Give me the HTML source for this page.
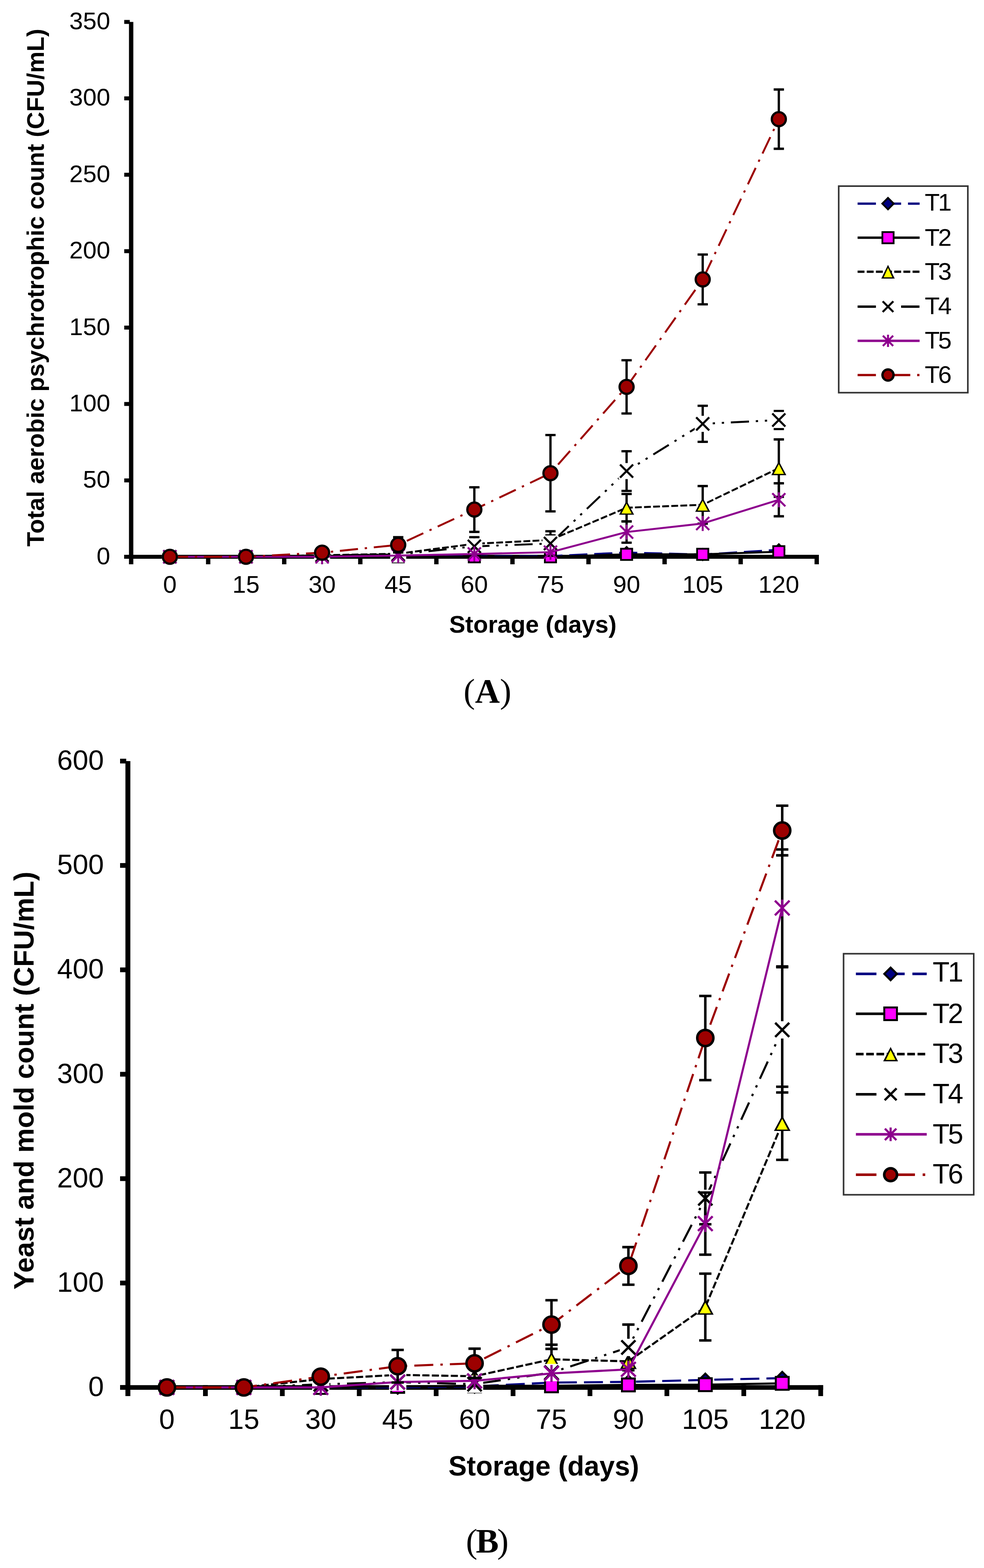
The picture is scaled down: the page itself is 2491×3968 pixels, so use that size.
<!DOCTYPE html><html><head><meta charset="utf-8"><title>Figure</title>
<style>html,body{margin:0;padding:0;background:#fff;overflow:hidden;width:2491px;height:3968px}svg{display:block}</style></head><body>
<svg width="2491" height="3968" viewBox="0 0 2491 3968">
<rect width="2491" height="3968" fill="#fff"/>
<g fill="#000">
<rect x="326.5" y="55.5" width="11" height="1372.5"/>
<rect x="314.5" y="1404" width="14" height="10"/>
<rect x="314.5" y="1210.7" width="14" height="10"/>
<rect x="314.5" y="1017.3" width="14" height="10"/>
<rect x="314.5" y="824" width="14" height="10"/>
<rect x="314.5" y="630.6" width="14" height="10"/>
<rect x="314.5" y="437.2" width="14" height="10"/>
<rect x="314.5" y="243.9" width="14" height="10"/>
<rect x="314.5" y="50.5" width="14" height="10"/>
<rect x="314.5" y="1404" width="1757.5" height="10"/>
<rect x="521.5" y="1404" width="11" height="24"/>
<rect x="714" y="1404" width="11" height="24"/>
<rect x="906.6" y="1404" width="11" height="24"/>
<rect x="1099.2" y="1404" width="11" height="24"/>
<rect x="1291.8" y="1404" width="11" height="24"/>
<rect x="1484.3" y="1404" width="11" height="24"/>
<rect x="1676.9" y="1404" width="11" height="24"/>
<rect x="1869.5" y="1404" width="11" height="24"/>
<rect x="2062" y="1404" width="11" height="24"/>
</g>
<g font-family="Liberation Sans, Arial, sans-serif" font-size="62" fill="#000">
<text x="279" y="1427.5" text-anchor="end">0</text>
<text x="279" y="1234.2" text-anchor="end">50</text>
<text x="279" y="1040.8" text-anchor="end">100</text>
<text x="279" y="847.5" text-anchor="end">150</text>
<text x="279" y="654.1" text-anchor="end">200</text>
<text x="279" y="460.8" text-anchor="end">250</text>
<text x="279" y="267.4" text-anchor="end">300</text>
<text x="279" y="74" text-anchor="end">350</text>
<text x="430" y="1500" text-anchor="middle">0</text>
<text x="622.7" y="1500" text-anchor="middle">15</text>
<text x="815.4" y="1500" text-anchor="middle">30</text>
<text x="1008.1" y="1500" text-anchor="middle">45</text>
<text x="1200.8" y="1500" text-anchor="middle">60</text>
<text x="1393.5" y="1500" text-anchor="middle">75</text>
<text x="1586.2" y="1500" text-anchor="middle">90</text>
<text x="1778.9" y="1500" text-anchor="middle">105</text>
<text x="1971.6" y="1500" text-anchor="middle">120</text>
</g>
<text x="1349" y="1601" text-anchor="middle" font-family="Liberation Sans, Arial, sans-serif" font-size="61" font-weight="bold">Storage (days)</text>
<text transform="translate(111 728) rotate(-90)" text-anchor="middle" font-family="Liberation Sans, Arial, sans-serif" font-size="61" font-weight="bold">Total aerobic psychrotrophic count (CFU/mL)</text>
<polyline points="430,1409 622.7,1409 815.4,1409 1008.1,1409 1200.8,1407.8 1393.5,1407.1 1586.2,1398.2 1778.9,1403.2 1971.6,1391.2" fill="none" stroke="#000080" stroke-width="4.9" stroke-dasharray="46 17.2" stroke-linejoin="round"/>
<path d="M430 1395L444 1409L430 1423L416 1409Z" fill="#000080" stroke="#000" stroke-width="4.5" stroke-linejoin="miter"/>
<path d="M622.7 1395L636.7 1409L622.7 1423L608.7 1409Z" fill="#000080" stroke="#000" stroke-width="4.5" stroke-linejoin="miter"/>
<path d="M815.4 1395L829.4 1409L815.4 1423L801.4 1409Z" fill="#000080" stroke="#000" stroke-width="4.5" stroke-linejoin="miter"/>
<path d="M1008.1 1395L1022.1 1409L1008.1 1423L994.1 1409Z" fill="#000080" stroke="#000" stroke-width="4.5" stroke-linejoin="miter"/>
<path d="M1200.8 1393.8L1214.8 1407.8L1200.8 1421.8L1186.8 1407.8Z" fill="#000080" stroke="#000" stroke-width="4.5" stroke-linejoin="miter"/>
<path d="M1393.5 1393.1L1407.5 1407.1L1393.5 1421.1L1379.5 1407.1Z" fill="#000080" stroke="#000" stroke-width="4.5" stroke-linejoin="miter"/>
<path d="M1586.2 1384.2L1600.2 1398.2L1586.2 1412.2L1572.2 1398.2Z" fill="#000080" stroke="#000" stroke-width="4.5" stroke-linejoin="miter"/>
<path d="M1778.9 1389.2L1792.9 1403.2L1778.9 1417.2L1764.9 1403.2Z" fill="#000080" stroke="#000" stroke-width="4.5" stroke-linejoin="miter"/>
<path d="M1971.6 1377.2L1985.6 1391.2L1971.6 1405.2L1957.6 1391.2Z" fill="#000080" stroke="#000" stroke-width="4.5" stroke-linejoin="miter"/>
<polyline points="430,1409 622.7,1409 815.4,1409 1008.1,1409 1200.8,1409 1393.5,1409 1586.2,1402.8 1778.9,1402.8 1971.6,1396.2" fill="none" stroke="#000" stroke-width="4.9" stroke-linejoin="round"/>
<rect x="415.8" y="1394.8" width="28.4" height="28.4" fill="#ff00ff" stroke="#000" stroke-width="4.5"/>
<rect x="608.5" y="1394.8" width="28.4" height="28.4" fill="#ff00ff" stroke="#000" stroke-width="4.5"/>
<rect x="801.2" y="1394.8" width="28.4" height="28.4" fill="#ff00ff" stroke="#000" stroke-width="4.5"/>
<rect x="993.9" y="1394.8" width="28.4" height="28.4" fill="#ff00ff" stroke="#000" stroke-width="4.5"/>
<rect x="1186.6" y="1394.8" width="28.4" height="28.4" fill="#ff00ff" stroke="#000" stroke-width="4.5"/>
<rect x="1379.3" y="1394.8" width="28.4" height="28.4" fill="#ff00ff" stroke="#000" stroke-width="4.5"/>
<rect x="1572" y="1388.6" width="28.4" height="28.4" fill="#ff00ff" stroke="#000" stroke-width="4.5"/>
<rect x="1764.7" y="1388.6" width="28.4" height="28.4" fill="#ff00ff" stroke="#000" stroke-width="4.5"/>
<rect x="1957.4" y="1382" width="28.4" height="28.4" fill="#ff00ff" stroke="#000" stroke-width="4.5"/>
<path d="M1200.8 1368.4L1200.8 1383.9M1187.8 1368.4L1213.8 1368.4M1187.8 1383.9L1213.8 1383.9M1393.5 1354.9L1393.5 1378.1M1380.5 1354.9L1406.5 1354.9M1380.5 1378.1L1406.5 1378.1M1586.2 1250.1L1586.2 1319.7M1573.2 1250.1L1599.2 1250.1M1573.2 1319.7L1599.2 1319.7M1778.9 1230L1778.9 1325.1M1765.9 1230L1791.9 1230M1765.9 1325.1L1791.9 1325.1M1971.6 1112L1971.6 1257.4M1958.6 1112L1984.6 1112M1958.6 1257.4L1984.6 1257.4" stroke="#000" stroke-width="5.8" fill="none"/>
<polyline points="430,1409 622.7,1409 815.4,1405.1 1008.1,1401.3 1200.8,1376.1 1393.5,1366.5 1586.2,1284.9 1778.9,1277.5 1971.6,1184.7" fill="none" stroke="#000" stroke-width="4.9" stroke-dasharray="17.2 5.8" stroke-linejoin="round"/>
<path d="M430 1391.3L449 1426.7L411 1426.7Z" fill="#000"/><path d="M430 1398.7L442.9 1423.5L417.1 1423.5Z" fill="#ffff00"/>
<path d="M622.7 1391.3L641.7 1426.7L603.7 1426.7Z" fill="#000"/><path d="M622.7 1398.7L635.6 1423.5L609.8 1423.5Z" fill="#ffff00"/>
<path d="M815.4 1387.4L834.4 1422.8L796.4 1422.8Z" fill="#000"/><path d="M815.4 1394.8L828.3 1419.6L802.5 1419.6Z" fill="#ffff00"/>
<path d="M1008.1 1383.6L1027.1 1419L989.1 1419Z" fill="#000"/><path d="M1008.1 1390.9L1021 1415.8L995.2 1415.8Z" fill="#ffff00"/>
<path d="M1200.8 1358.4L1219.8 1393.8L1181.8 1393.8Z" fill="#000"/><path d="M1200.8 1365.8L1213.7 1390.6L1187.9 1390.6Z" fill="#ffff00"/>
<path d="M1393.5 1348.8L1412.5 1384.2L1374.5 1384.2Z" fill="#000"/><path d="M1393.5 1356.1L1406.4 1381L1380.6 1381Z" fill="#ffff00"/>
<path d="M1586.2 1267.2L1605.2 1302.6L1567.2 1302.6Z" fill="#000"/><path d="M1586.2 1274.5L1599.1 1299.4L1573.3 1299.4Z" fill="#ffff00"/>
<path d="M1778.9 1259.8L1797.9 1295.2L1759.9 1295.2Z" fill="#000"/><path d="M1778.9 1267.2L1791.8 1292L1766 1292Z" fill="#ffff00"/>
<path d="M1971.6 1167L1990.6 1202.4L1952.6 1202.4Z" fill="#000"/><path d="M1971.6 1174.4L1984.5 1199.2L1958.7 1199.2Z" fill="#ffff00"/>
<path d="M1200.8 1359.5L1200.8 1405.9M1187.8 1359.5L1213.8 1359.5M1187.8 1405.9L1213.8 1405.9M1393.5 1344.4L1393.5 1406.3M1380.5 1344.4L1406.5 1344.4M1380.5 1406.3L1406.5 1406.3M1586.2 1141.8L1586.2 1242.3M1573.2 1141.8L1599.2 1141.8M1573.2 1242.3L1599.2 1242.3M1778.9 1026.9L1778.9 1118.2M1765.9 1026.9L1791.9 1026.9M1765.9 1118.2L1791.9 1118.2M1971.6 1040.1L1971.6 1085.7M1958.6 1040.1L1984.6 1040.1M1958.6 1085.7L1984.6 1085.7" stroke="#000" stroke-width="5.8" fill="none"/>
<polyline points="430,1409 622.7,1409 815.4,1405.1 1008.1,1403.2 1200.8,1382.7 1393.5,1375.4 1586.2,1192.1 1778.9,1072.6 1971.6,1062.9" fill="none" stroke="#000" stroke-width="4.9" stroke-dasharray="46 17.2 5.8 17.2 5.8 17.2" stroke-linejoin="round"/>
<rect x="409.7" y="1388.7" width="40.6" height="40.6" fill="#fff"/><path d="M413.5 1392.5L446.5 1425.5M446.5 1392.5L413.5 1425.5" stroke="#000" stroke-width="5.2" fill="none"/>
<rect x="602.4" y="1388.7" width="40.6" height="40.6" fill="#fff"/><path d="M606.2 1392.5L639.2 1425.5M639.2 1392.5L606.2 1425.5" stroke="#000" stroke-width="5.2" fill="none"/>
<rect x="795.1" y="1384.8" width="40.6" height="40.6" fill="#fff"/><path d="M798.9 1388.6L831.9 1421.6M831.9 1388.6L798.9 1421.6" stroke="#000" stroke-width="5.2" fill="none"/>
<rect x="987.8" y="1382.9" width="40.6" height="40.6" fill="#fff"/><path d="M991.6 1386.7L1024.6 1419.7M1024.6 1386.7L991.6 1419.7" stroke="#000" stroke-width="5.2" fill="none"/>
<rect x="1180.5" y="1362.4" width="40.6" height="40.6" fill="#fff"/><path d="M1184.3 1366.2L1217.3 1399.2M1217.3 1366.2L1184.3 1399.2" stroke="#000" stroke-width="5.2" fill="none"/>
<rect x="1373.2" y="1355.1" width="40.6" height="40.6" fill="#fff"/><path d="M1377 1358.9L1410 1391.9M1410 1358.9L1377 1391.9" stroke="#000" stroke-width="5.2" fill="none"/>
<rect x="1565.9" y="1171.8" width="40.6" height="40.6" fill="#fff"/><path d="M1569.7 1175.6L1602.7 1208.6M1602.7 1175.6L1569.7 1208.6" stroke="#000" stroke-width="5.2" fill="none"/>
<rect x="1758.6" y="1052.3" width="40.6" height="40.6" fill="#fff"/><path d="M1762.4 1056.1L1795.4 1089.1M1795.4 1056.1L1762.4 1089.1" stroke="#000" stroke-width="5.2" fill="none"/>
<rect x="1951.3" y="1042.6" width="40.6" height="40.6" fill="#fff"/><path d="M1955.1 1046.4L1988.1 1079.4M1988.1 1046.4L1955.1 1079.4" stroke="#000" stroke-width="5.2" fill="none"/>
<path d="M1586.2 1319.3L1586.2 1373.4M1573.2 1319.3L1599.2 1319.3M1573.2 1373.4L1599.2 1373.4M1971.6 1223L1971.6 1306.5M1958.6 1223L1984.6 1223M1958.6 1306.5L1984.6 1306.5" stroke="#000" stroke-width="5.8" fill="none"/>
<polyline points="430,1409 622.7,1409 815.4,1409 1008.1,1405.9 1200.8,1402 1393.5,1397.4 1586.2,1346.4 1778.9,1324.7 1971.6,1264.8" fill="none" stroke="#8e008e" stroke-width="4.9" stroke-linejoin="round"/>
<path d="M413.5 1392.5L446.5 1425.5M446.5 1392.5L413.5 1425.5M430 1390L430 1428" stroke="#8e008e" stroke-width="5" fill="none"/>
<path d="M606.2 1392.5L639.2 1425.5M639.2 1392.5L606.2 1425.5M622.7 1390L622.7 1428" stroke="#8e008e" stroke-width="5" fill="none"/>
<path d="M798.9 1392.5L831.9 1425.5M831.9 1392.5L798.9 1425.5M815.4 1390L815.4 1428" stroke="#8e008e" stroke-width="5" fill="none"/>
<path d="M991.6 1389.4L1024.6 1422.4M1024.6 1389.4L991.6 1422.4M1008.1 1386.9L1008.1 1424.9" stroke="#8e008e" stroke-width="5" fill="none"/>
<path d="M1184.3 1385.5L1217.3 1418.5M1217.3 1385.5L1184.3 1418.5M1200.8 1383L1200.8 1421" stroke="#8e008e" stroke-width="5" fill="none"/>
<path d="M1377 1380.9L1410 1413.9M1410 1380.9L1377 1413.9M1393.5 1378.4L1393.5 1416.4" stroke="#8e008e" stroke-width="5" fill="none"/>
<path d="M1569.7 1329.9L1602.7 1362.9M1602.7 1329.9L1569.7 1362.9M1586.2 1327.4L1586.2 1365.4" stroke="#8e008e" stroke-width="5" fill="none"/>
<path d="M1762.4 1308.2L1795.4 1341.2M1795.4 1308.2L1762.4 1341.2M1778.9 1305.7L1778.9 1343.7" stroke="#8e008e" stroke-width="5" fill="none"/>
<path d="M1955.1 1248.3L1988.1 1281.3M1988.1 1248.3L1955.1 1281.3M1971.6 1245.8L1971.6 1283.8" stroke="#8e008e" stroke-width="5" fill="none"/>
<path d="M1008.1 1359.5L1008.1 1398.2M995.1 1359.5L1021.1 1359.5M995.1 1398.2L1021.1 1398.2M1200.8 1233.1L1200.8 1346M1187.8 1233.1L1213.8 1233.1M1187.8 1346L1213.8 1346M1393.5 1100.8L1393.5 1294.2M1380.5 1100.8L1406.5 1100.8M1380.5 1294.2L1406.5 1294.2M1586.2 911.7L1586.2 1046.3M1573.2 911.7L1599.2 911.7M1573.2 1046.3L1599.2 1046.3M1778.9 644.1L1778.9 770.2M1765.9 644.1L1791.9 644.1M1765.9 770.2L1791.9 770.2M1971.6 226.5L1971.6 376.5M1958.6 226.5L1984.6 226.5M1958.6 376.5L1984.6 376.5" stroke="#000" stroke-width="5.8" fill="none"/>
<polyline points="430,1409 622.7,1409 815.4,1398.6 1008.1,1378.8 1200.8,1289.5 1393.5,1197.5 1586.2,979 1778.9,707.1 1971.6,301.5" fill="none" stroke="#9c0000" stroke-width="4.9" stroke-dasharray="46 17.2 5.8 17.2" stroke-linejoin="round"/>
<circle cx="430" cy="1409" r="17.8" fill="#9c0000" stroke="#000" stroke-width="5.6"/>
<circle cx="622.7" cy="1409" r="17.8" fill="#9c0000" stroke="#000" stroke-width="5.6"/>
<circle cx="815.4" cy="1398.6" r="17.8" fill="#9c0000" stroke="#000" stroke-width="5.6"/>
<circle cx="1008.1" cy="1378.8" r="17.8" fill="#9c0000" stroke="#000" stroke-width="5.6"/>
<circle cx="1200.8" cy="1289.5" r="17.8" fill="#9c0000" stroke="#000" stroke-width="5.6"/>
<circle cx="1393.5" cy="1197.5" r="17.8" fill="#9c0000" stroke="#000" stroke-width="5.6"/>
<circle cx="1586.2" cy="979" r="17.8" fill="#9c0000" stroke="#000" stroke-width="5.6"/>
<circle cx="1778.9" cy="707.1" r="17.8" fill="#9c0000" stroke="#000" stroke-width="5.6"/>
<circle cx="1971.6" cy="301.5" r="17.8" fill="#9c0000" stroke="#000" stroke-width="5.6"/>
<rect x="2123.2" y="471" width="326.9" height="522.7" fill="#fff" stroke="#333" stroke-width="4"/>
<line x1="2171" y1="515.3" x2="2328" y2="515.3" stroke="#000080" stroke-width="5.8" stroke-dasharray="46.4 17.4"/>
<path d="M2248 500.8L2262.5 515.3L2248 529.8L2233.5 515.3Z" fill="#000080" stroke="#000" stroke-width="4.5" stroke-linejoin="miter"/>
<text x="2341" y="532.5" font-family="Liberation Sans, Arial, sans-serif" font-size="62" letter-spacing="-4">T1</text>
<line x1="2171" y1="601.5" x2="2328" y2="601.5" stroke="#000" stroke-width="5.8"/>
<rect x="2233.8" y="587.3" width="28.4" height="28.4" fill="#ff00ff" stroke="#000" stroke-width="4.5"/>
<text x="2341" y="621.5" font-family="Liberation Sans, Arial, sans-serif" font-size="62" letter-spacing="-4">T2</text>
<line x1="2171" y1="687.6" x2="2328" y2="687.6" stroke="#000" stroke-width="5.8" stroke-dasharray="17.4 5.8"/>
<path d="M2248 670.3L2265 704.9L2231 704.9Z" fill="#000"/><path d="M2248 677.7L2258.9 701.7L2237.1 701.7Z" fill="#ffff00"/>
<text x="2341" y="708.2" font-family="Liberation Sans, Arial, sans-serif" font-size="62" letter-spacing="-4">T3</text>
<line x1="2171" y1="776" x2="2328" y2="776" stroke="#000" stroke-width="5.8" stroke-dasharray="46.4 17.4 5.8 17.4 5.8 17.4"/>
<rect x="2230.7" y="758.7" width="34.6" height="34.6" fill="#fff"/><path d="M2234.5 762.5L2261.5 789.5M2261.5 762.5L2234.5 789.5" stroke="#000" stroke-width="5.2" fill="none"/>
<text x="2341" y="795.1" font-family="Liberation Sans, Arial, sans-serif" font-size="62" letter-spacing="-4">T4</text>
<line x1="2171" y1="862.5" x2="2328" y2="862.5" stroke="#8e008e" stroke-width="5.8"/>
<path d="M2235 849.5L2261 875.5M2261 849.5L2235 875.5M2248 847L2248 878" stroke="#8e008e" stroke-width="5" fill="none"/>
<text x="2341" y="882" font-family="Liberation Sans, Arial, sans-serif" font-size="62" letter-spacing="-4">T5</text>
<line x1="2171" y1="949.1" x2="2328" y2="949.1" stroke="#9c0000" stroke-width="5.8" stroke-dasharray="46.4 17.4 5.8 17.4"/>
<circle cx="2248" cy="949.1" r="14" fill="#9c0000" stroke="#000" stroke-width="6"/>
<text x="2341" y="969" font-family="Liberation Sans, Arial, sans-serif" font-size="62" letter-spacing="-4">T6</text>
<text x="1234" y="1778" text-anchor="middle" font-family="Liberation Serif, Times New Roman, serif" font-size="87" letter-spacing="0">(<tspan font-weight="bold">A</tspan>)</text>
<g fill="#000">
<rect x="317.5" y="1926" width="12.5" height="1607"/>
<rect x="304" y="3505" width="15.5" height="12"/>
<rect x="304" y="3240.8" width="15.5" height="12"/>
<rect x="304" y="2976.7" width="15.5" height="12"/>
<rect x="304" y="2712.5" width="15.5" height="12"/>
<rect x="304" y="2448.3" width="15.5" height="12"/>
<rect x="304" y="2184.1" width="15.5" height="12"/>
<rect x="304" y="1920" width="15.5" height="12"/>
<rect x="304" y="3505.3" width="1780" height="11.7"/>
<rect x="514" y="3505.3" width="12" height="27.7"/>
<rect x="708.7" y="3505.3" width="12" height="27.7"/>
<rect x="903.4" y="3505.3" width="12" height="27.7"/>
<rect x="1098.1" y="3505.3" width="12" height="27.7"/>
<rect x="1292.8" y="3505.3" width="12" height="27.7"/>
<rect x="1487.5" y="3505.3" width="12" height="27.7"/>
<rect x="1682.2" y="3505.3" width="12" height="27.7"/>
<rect x="1876.9" y="3505.3" width="12" height="27.7"/>
<rect x="2071.6" y="3505.3" width="12" height="27.7"/>
</g>
<g font-family="Liberation Sans, Arial, sans-serif" font-size="71" fill="#000">
<text x="263" y="3533" text-anchor="end">0</text>
<text x="263" y="3268.8" text-anchor="end">100</text>
<text x="263" y="3004.7" text-anchor="end">200</text>
<text x="263" y="2740.5" text-anchor="end">300</text>
<text x="263" y="2476.3" text-anchor="end">400</text>
<text x="263" y="2212.1" text-anchor="end">500</text>
<text x="263" y="1948" text-anchor="end">600</text>
<text x="422.6" y="3615.5" text-anchor="middle">0</text>
<text x="617.3" y="3615.5" text-anchor="middle">15</text>
<text x="812" y="3615.5" text-anchor="middle">30</text>
<text x="1006.7" y="3615.5" text-anchor="middle">45</text>
<text x="1201.4" y="3615.5" text-anchor="middle">60</text>
<text x="1396.1" y="3615.5" text-anchor="middle">75</text>
<text x="1590.8" y="3615.5" text-anchor="middle">90</text>
<text x="1785.5" y="3615.5" text-anchor="middle">105</text>
<text x="1980.2" y="3615.5" text-anchor="middle">120</text>
</g>
<text x="1376.6" y="3733.7" text-anchor="middle" font-family="Liberation Sans, Arial, sans-serif" font-size="69.5" font-weight="bold">Storage (days)</text>
<text transform="translate(84.5 2734.6) rotate(-90)" text-anchor="middle" font-family="Liberation Sans, Arial, sans-serif" font-size="70" font-weight="bold">Yeast and mold count (CFU/mL)</text>
<polyline points="422.6,3511 617.3,3511 812,3511 1006.7,3511 1201.4,3508.4 1396.1,3498.8 1590.8,3497 1785.5,3492 1980.2,3487.5" fill="none" stroke="#000080" stroke-width="5.3" stroke-dasharray="48 18" stroke-linejoin="round"/>
<path d="M422.6 3495L438.6 3511L422.6 3527L406.6 3511Z" fill="#000080" stroke="#000" stroke-width="5" stroke-linejoin="miter"/>
<path d="M617.3 3495L633.3 3511L617.3 3527L601.3 3511Z" fill="#000080" stroke="#000" stroke-width="5" stroke-linejoin="miter"/>
<path d="M812 3495L828 3511L812 3527L796 3511Z" fill="#000080" stroke="#000" stroke-width="5" stroke-linejoin="miter"/>
<path d="M1006.7 3495L1022.7 3511L1006.7 3527L990.7 3511Z" fill="#000080" stroke="#000" stroke-width="5" stroke-linejoin="miter"/>
<path d="M1201.4 3492.4L1217.4 3508.4L1201.4 3524.4L1185.4 3508.4Z" fill="#000080" stroke="#000" stroke-width="5" stroke-linejoin="miter"/>
<path d="M1396.1 3482.8L1412.1 3498.8L1396.1 3514.8L1380.1 3498.8Z" fill="#000080" stroke="#000" stroke-width="5" stroke-linejoin="miter"/>
<path d="M1590.8 3481L1606.8 3497L1590.8 3513L1574.8 3497Z" fill="#000080" stroke="#000" stroke-width="5" stroke-linejoin="miter"/>
<path d="M1785.5 3476L1801.5 3492L1785.5 3508L1769.5 3492Z" fill="#000080" stroke="#000" stroke-width="5" stroke-linejoin="miter"/>
<path d="M1980.2 3471.5L1996.2 3487.5L1980.2 3503.5L1964.2 3487.5Z" fill="#000080" stroke="#000" stroke-width="5" stroke-linejoin="miter"/>
<polyline points="422.6,3511 617.3,3511 812,3511 1006.7,3508.4 1201.4,3507 1396.1,3507 1590.8,3504.7 1785.5,3504.1 1980.2,3500.7" fill="none" stroke="#000" stroke-width="5.3" stroke-linejoin="round"/>
<rect x="406.3" y="3494.7" width="32.6" height="32.6" fill="#ff00ff" stroke="#000" stroke-width="5"/>
<rect x="601" y="3494.7" width="32.6" height="32.6" fill="#ff00ff" stroke="#000" stroke-width="5"/>
<rect x="795.7" y="3494.7" width="32.6" height="32.6" fill="#ff00ff" stroke="#000" stroke-width="5"/>
<rect x="990.4" y="3492.1" width="32.6" height="32.6" fill="#ff00ff" stroke="#000" stroke-width="5"/>
<rect x="1185.1" y="3490.7" width="32.6" height="32.6" fill="#ff00ff" stroke="#000" stroke-width="5"/>
<rect x="1379.8" y="3490.7" width="32.6" height="32.6" fill="#ff00ff" stroke="#000" stroke-width="5"/>
<rect x="1574.5" y="3488.4" width="32.6" height="32.6" fill="#ff00ff" stroke="#000" stroke-width="5"/>
<rect x="1769.2" y="3487.8" width="32.6" height="32.6" fill="#ff00ff" stroke="#000" stroke-width="5"/>
<rect x="1963.9" y="3484.4" width="32.6" height="32.6" fill="#ff00ff" stroke="#000" stroke-width="5"/>
<path d="M1396.1 3403L1396.1 3476.9M1380.6 3403L1411.6 3403M1380.6 3476.9L1411.6 3476.9M1785.5 3223.1L1785.5 3392.1M1770 3223.1L1801 3223.1M1770 3392.1L1801 3392.1M1980.2 2750.2L1980.2 2935.1M1964.7 2750.2L1995.7 2750.2M1964.7 2935.1L1995.7 2935.1" stroke="#000" stroke-width="6.3" fill="none"/>
<polyline points="422.6,3511 617.3,3511 812,3489.9 1006.7,3479.3 1201.4,3482.7 1396.1,3439.9 1590.8,3445 1785.5,3307.6 1980.2,2842.6" fill="none" stroke="#000" stroke-width="5.3" stroke-dasharray="18 6" stroke-linejoin="round"/>
<path d="M422.6 3491.5L443.6 3530.5L401.6 3530.5Z" fill="#000"/><path d="M422.6 3499.8L436.8 3526.9L408.4 3526.9Z" fill="#ffff00"/>
<path d="M617.3 3491.5L638.3 3530.5L596.3 3530.5Z" fill="#000"/><path d="M617.3 3499.8L631.5 3526.9L603.1 3526.9Z" fill="#ffff00"/>
<path d="M812 3470.4L833 3509.4L791 3509.4Z" fill="#000"/><path d="M812 3478.6L826.2 3505.8L797.8 3505.8Z" fill="#ffff00"/>
<path d="M1006.7 3459.8L1027.7 3498.8L985.7 3498.8Z" fill="#000"/><path d="M1006.7 3468.1L1020.9 3495.2L992.5 3495.2Z" fill="#ffff00"/>
<path d="M1201.4 3463.2L1222.4 3502.2L1180.4 3502.2Z" fill="#000"/><path d="M1201.4 3471.5L1215.6 3498.6L1187.2 3498.6Z" fill="#ffff00"/>
<path d="M1396.1 3420.4L1417.1 3459.4L1375.1 3459.4Z" fill="#000"/><path d="M1396.1 3428.7L1410.3 3455.8L1381.9 3455.8Z" fill="#ffff00"/>
<path d="M1590.8 3425.5L1611.8 3464.5L1569.8 3464.5Z" fill="#000"/><path d="M1590.8 3433.7L1605 3460.9L1576.6 3460.9Z" fill="#ffff00"/>
<path d="M1785.5 3288.1L1806.5 3327.1L1764.5 3327.1Z" fill="#000"/><path d="M1785.5 3296.4L1799.7 3323.5L1771.3 3323.5Z" fill="#ffff00"/>
<path d="M1980.2 2823.1L2001.2 2862.1L1959.2 2862.1Z" fill="#000"/><path d="M1980.2 2831.4L1994.4 2858.5L1966 2858.5Z" fill="#ffff00"/>
<path d="M1590.8 3352L1590.8 3467.7M1575.3 3352L1606.3 3352M1575.3 3467.7L1606.3 3467.7M1785.5 2967.1L1785.5 3098.1M1770 2967.1L1801 2967.1M1770 3098.1L1801 3098.1M1980.2 2447.7L1980.2 2764.7M1964.7 2447.7L1995.7 2447.7M1964.7 2764.7L1995.7 2764.7" stroke="#000" stroke-width="6.3" fill="none"/>
<polyline points="422.6,3511 617.3,3511 812,3503.1 1006.7,3497.8 1201.4,3502.8 1396.1,3473.5 1590.8,3409.8 1785.5,3032.6 1980.2,2606.2" fill="none" stroke="#000" stroke-width="5.3" stroke-dasharray="48 18 6 18 6 18" stroke-linejoin="round"/>
<rect x="400.7" y="3489.1" width="43.8" height="43.8" fill="#fff"/><path d="M404.8 3493.2L440.4 3528.8M440.4 3493.2L404.8 3528.8" stroke="#000" stroke-width="5.8" fill="none"/>
<rect x="595.4" y="3489.1" width="43.8" height="43.8" fill="#fff"/><path d="M599.5 3493.2L635.1 3528.8M635.1 3493.2L599.5 3528.8" stroke="#000" stroke-width="5.8" fill="none"/>
<rect x="790.1" y="3481.2" width="43.8" height="43.8" fill="#fff"/><path d="M794.2 3485.3L829.8 3520.9M829.8 3485.3L794.2 3520.9" stroke="#000" stroke-width="5.8" fill="none"/>
<rect x="984.8" y="3475.9" width="43.8" height="43.8" fill="#fff"/><path d="M988.9 3480L1024.5 3515.6M1024.5 3480L988.9 3515.6" stroke="#000" stroke-width="5.8" fill="none"/>
<rect x="1179.5" y="3480.9" width="43.8" height="43.8" fill="#fff"/><path d="M1183.6 3485L1219.2 3520.6M1219.2 3485L1183.6 3520.6" stroke="#000" stroke-width="5.8" fill="none"/>
<rect x="1374.2" y="3451.6" width="43.8" height="43.8" fill="#fff"/><path d="M1378.3 3455.7L1413.9 3491.3M1413.9 3455.7L1378.3 3491.3" stroke="#000" stroke-width="5.8" fill="none"/>
<rect x="1568.9" y="3387.9" width="43.8" height="43.8" fill="#fff"/><path d="M1573 3392L1608.6 3427.6M1608.6 3392L1573 3427.6" stroke="#000" stroke-width="5.8" fill="none"/>
<rect x="1763.6" y="3010.7" width="43.8" height="43.8" fill="#fff"/><path d="M1767.7 3014.8L1803.3 3050.4M1803.3 3014.8L1767.7 3050.4" stroke="#000" stroke-width="5.8" fill="none"/>
<rect x="1958.3" y="2584.3" width="43.8" height="43.8" fill="#fff"/><path d="M1962.4 2588.4L1998 2624M1998 2588.4L1962.4 2624" stroke="#000" stroke-width="5.8" fill="none"/>
<path d="M1785.5 3017.8L1785.5 3175.2M1770 3017.8L1801 3017.8M1770 3175.2L1801 3175.2M1980.2 2149.7L1980.2 2445.6M1964.7 2149.7L1995.7 2149.7M1964.7 2445.6L1995.7 2445.6" stroke="#000" stroke-width="6.3" fill="none"/>
<polyline points="422.6,3511 617.3,3511 812,3511 1006.7,3497.3 1201.4,3494.4 1396.1,3475.6 1590.8,3465.3 1785.5,3096.5 1980.2,2297.7" fill="none" stroke="#8e008e" stroke-width="5.3" stroke-linejoin="round"/>
<path d="M404.1 3492.5L441.1 3529.5M441.1 3492.5L404.1 3529.5M422.6 3489.7L422.6 3532.3" stroke="#8e008e" stroke-width="5.6" fill="none"/>
<path d="M598.8 3492.5L635.8 3529.5M635.8 3492.5L598.8 3529.5M617.3 3489.7L617.3 3532.3" stroke="#8e008e" stroke-width="5.6" fill="none"/>
<path d="M793.5 3492.5L830.5 3529.5M830.5 3492.5L793.5 3529.5M812 3489.7L812 3532.3" stroke="#8e008e" stroke-width="5.6" fill="none"/>
<path d="M988.2 3478.8L1025.2 3515.8M1025.2 3478.8L988.2 3515.8M1006.7 3476L1006.7 3518.6" stroke="#8e008e" stroke-width="5.6" fill="none"/>
<path d="M1182.9 3475.9L1219.9 3512.9M1219.9 3475.9L1182.9 3512.9M1201.4 3473.1L1201.4 3515.7" stroke="#8e008e" stroke-width="5.6" fill="none"/>
<path d="M1377.6 3457.1L1414.6 3494.1M1414.6 3457.1L1377.6 3494.1M1396.1 3454.3L1396.1 3496.9" stroke="#8e008e" stroke-width="5.6" fill="none"/>
<path d="M1572.3 3446.8L1609.3 3483.8M1609.3 3446.8L1572.3 3483.8M1590.8 3444L1590.8 3486.6" stroke="#8e008e" stroke-width="5.6" fill="none"/>
<path d="M1767 3078L1804 3115M1804 3078L1767 3115M1785.5 3075.2L1785.5 3117.8" stroke="#8e008e" stroke-width="5.6" fill="none"/>
<path d="M1961.7 2279.2L1998.7 2316.2M1998.7 2279.2L1961.7 2316.2M1980.2 2276.4L1980.2 2319" stroke="#8e008e" stroke-width="5.6" fill="none"/>
<path d="M1006.7 3416.2L1006.7 3498.6M991.2 3416.2L1022.2 3416.2M991.2 3498.6L1022.2 3498.6M1201.4 3413L1201.4 3487M1185.9 3413L1216.9 3413M1185.9 3487L1216.9 3487M1396.1 3290.4L1396.1 3413.5M1380.6 3290.4L1411.6 3290.4M1380.6 3413.5L1411.6 3413.5M1590.8 3156L1590.8 3251.1M1575.3 3156L1606.3 3156M1575.3 3251.1L1606.3 3251.1M1785.5 2520.4L1785.5 2733.3M1770 2520.4L1801 2520.4M1770 2733.3L1801 2733.3M1980.2 2038.8L1980.2 2164.5M1964.7 2038.8L1995.7 2038.8M1964.7 2164.5L1995.7 2164.5" stroke="#000" stroke-width="6.3" fill="none"/>
<polyline points="422.6,3511 617.3,3511 812,3483.8 1006.7,3457.4 1201.4,3450 1396.1,3352 1590.8,3203.5 1785.5,2626.8 1980.2,2101.7" fill="none" stroke="#9c0000" stroke-width="5.3" stroke-dasharray="48 18 6 18" stroke-linejoin="round"/>
<circle cx="422.6" cy="3511" r="20.5" fill="#9c0000" stroke="#000" stroke-width="6.2"/>
<circle cx="617.3" cy="3511" r="20.5" fill="#9c0000" stroke="#000" stroke-width="6.2"/>
<circle cx="812" cy="3483.8" r="20.5" fill="#9c0000" stroke="#000" stroke-width="6.2"/>
<circle cx="1006.7" cy="3457.4" r="20.5" fill="#9c0000" stroke="#000" stroke-width="6.2"/>
<circle cx="1201.4" cy="3450" r="20.5" fill="#9c0000" stroke="#000" stroke-width="6.2"/>
<circle cx="1396.1" cy="3352" r="20.5" fill="#9c0000" stroke="#000" stroke-width="6.2"/>
<circle cx="1590.8" cy="3203.5" r="20.5" fill="#9c0000" stroke="#000" stroke-width="6.2"/>
<circle cx="1785.5" cy="2626.8" r="20.5" fill="#9c0000" stroke="#000" stroke-width="6.2"/>
<circle cx="1980.2" cy="2101.7" r="20.5" fill="#9c0000" stroke="#000" stroke-width="6.2"/>
<rect x="2135.5" y="2413.5" width="329.5" height="610" fill="#fff" stroke="#333" stroke-width="4"/>
<line x1="2166.7" y1="2464.6" x2="2346" y2="2464.6" stroke="#000080" stroke-width="6.5" stroke-dasharray="52 19.5"/>
<path d="M2254.6 2448.6L2270.6 2464.6L2254.6 2480.6L2238.6 2464.6Z" fill="#000080" stroke="#000" stroke-width="5" stroke-linejoin="miter"/>
<text x="2361" y="2484" font-family="Liberation Sans, Arial, sans-serif" font-size="70" letter-spacing="-4">T1</text>
<line x1="2166.7" y1="2565.5" x2="2346" y2="2565.5" stroke="#000" stroke-width="6.5"/>
<rect x="2238.6" y="2549.5" width="32" height="32" fill="#ff00ff" stroke="#000" stroke-width="5"/>
<text x="2361" y="2588.6" font-family="Liberation Sans, Arial, sans-serif" font-size="70" letter-spacing="-4">T2</text>
<line x1="2166.7" y1="2667.6" x2="2346" y2="2667.6" stroke="#000" stroke-width="6.5" stroke-dasharray="19.5 6.5"/>
<path d="M2254.6 2649.5L2273.4 2685.7L2235.8 2685.7Z" fill="#000"/><path d="M2254.6 2657.6L2266.8 2682.2L2242.4 2682.2Z" fill="#ffff00"/>
<text x="2361" y="2690.1" font-family="Liberation Sans, Arial, sans-serif" font-size="70" letter-spacing="-4">T3</text>
<line x1="2166.7" y1="2769.3" x2="2346" y2="2769.3" stroke="#000" stroke-width="6.5" stroke-dasharray="52 19.5 6.5 19.5 6.5 19.5"/>
<rect x="2235.5" y="2750.2" width="38.2" height="38.2" fill="#fff"/><path d="M2239.6 2754.3L2269.6 2784.3M2269.6 2754.3L2239.6 2784.3" stroke="#000" stroke-width="5.8" fill="none"/>
<text x="2361" y="2791.8" font-family="Liberation Sans, Arial, sans-serif" font-size="70" letter-spacing="-4">T4</text>
<line x1="2166.7" y1="2870.6" x2="2346" y2="2870.6" stroke="#8e008e" stroke-width="6.5"/>
<path d="M2240.1 2856.1L2269.1 2885.1M2269.1 2856.1L2240.1 2885.1M2254.6 2853.3L2254.6 2887.8" stroke="#8e008e" stroke-width="5.5" fill="none"/>
<text x="2361" y="2893.5" font-family="Liberation Sans, Arial, sans-serif" font-size="70" letter-spacing="-4">T5</text>
<line x1="2166.7" y1="2972.8" x2="2346" y2="2972.8" stroke="#9c0000" stroke-width="6.5" stroke-dasharray="52 19.5 6.5 19.5"/>
<circle cx="2254.6" cy="2972.8" r="16.2" fill="#9c0000" stroke="#000" stroke-width="6.5"/>
<text x="2361" y="2995.2" font-family="Liberation Sans, Arial, sans-serif" font-size="70" letter-spacing="-4">T6</text>
<text x="1231.5" y="3928.5" text-anchor="middle" font-family="Liberation Serif, Times New Roman, serif" font-size="87" letter-spacing="-4">(<tspan font-weight="bold">B</tspan>)</text>
</svg></body></html>
